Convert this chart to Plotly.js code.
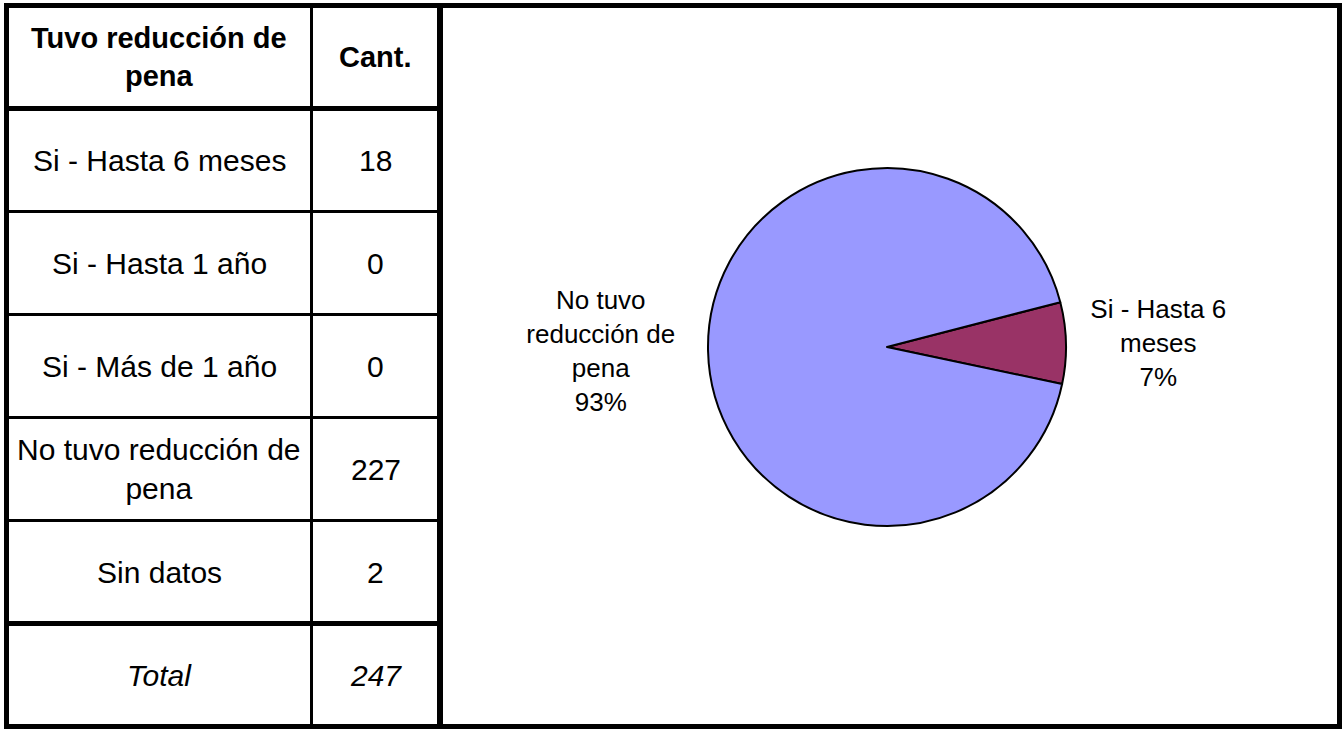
<!DOCTYPE html>
<html><head><meta charset="utf-8">
<script src="https://cdn.plot.ly/plotly-3.0.1.min.js"></script>
<style>html,body{margin:0;padding:0;background:#fff;overflow:hidden}#chart{width:1343px;height:731px}</style>
</head><body><div id="chart"></div>
<script>
// ---- data ----
const headerCategory = 'Tuvo reducción de pena';
const headerCount = 'Cant.';
const categories = ['Si - Hasta 6 meses', 'Si - Hasta 1 año', 'Si - Más de 1 año', 'No tuvo reducción de pena', 'Sin datos'];
const counts = [18, 0, 0, 227, 2];
const totalLabel = 'Total';
const totalCount = 247;
const pieExcluded = ['Sin datos'];

// ---- helpers ----
const W = 1343, H = 731;
const FONT = 'Liberation Sans, Arial, sans-serif';
const px = x => x / W;
const py = y => 1 - y / H;
function wrap(s, max) {
  const words = s.split(' '); const lines = []; let cur = '';
  words.forEach(w => {
    const t = cur ? cur + ' ' + w : w;
    if (t.length > max && cur) { lines.push(cur); cur = w; } else cur = t;
  });
  if (cur) lines.push(cur);
  return lines.join('<br>');
}

// ---- table geometry ----
const top0 = 5.5, rowH = 103;
const nRows = categories.length + 2;
const xLeft = 6.5, xCol = 311.5, xMid = 440, xRight = 1339.5;
const shapes = [];
function hline(x0, x1, y, w) {
  shapes.push({type: 'line', xref: 'paper', yref: 'paper', x0: px(x0), x1: px(x1), y0: py(y), y1: py(y), line: {color: '#000', width: w}});
}
function vline(x, y0, y1, w) {
  shapes.push({type: 'line', xref: 'paper', yref: 'paper', x0: px(x), x1: px(x), y0: py(y0), y1: py(y1), line: {color: '#000', width: w}});
}
const yEnd = top0 + rowH * nRows;
for (let k = 1; k < nRows; k++) {
  const thick = (k === 1 || k === nRows - 1);
  hline(xLeft, xMid, top0 + rowH * k, thick ? 5 : 3);
}
vline(xCol, top0, yEnd, 3);
vline(xLeft, top0 - 2.5, yEnd + 2.5, 5);
vline(xMid, top0, yEnd, 6);
vline(xRight, top0 - 2.5, yEnd + 2.5, 5);
hline(xLeft, xRight, top0, 5);
hline(xLeft, xRight, yEnd, 5);

// ---- table text ----
const annotations = [];
const c1 = (xLeft + xCol) / 2, c2 = (xCol + xMid) / 2;
function cell(x, k, text, size) {
  annotations.push({xref: 'paper', yref: 'paper', x: px(x), y: py(top0 + rowH * (k + 0.5)),
    xanchor: 'center', yanchor: 'middle', showarrow: false, align: 'center',
    text: text, font: {family: FONT, size: size, color: '#000'}});
}
cell(c1, 0, '<b>' + wrap(headerCategory, 20) + '</b>', 29);
cell(c2, 0, '<b>' + headerCount + '</b>', 29);
categories.forEach((c, i) => { cell(c1, i + 1, wrap(c, 20), 30); cell(c2, i + 1, String(counts[i]), 30); });
cell(c1, nRows - 1, '<i>' + totalLabel + '</i>', 30);
cell(c2, nRows - 1, '<i>' + totalCount + '</i>', 30);

// ---- pie ----
const pieLabels = [], pieValues = [], pieText = [];
categories.forEach((c, i) => {
  if (pieExcluded.indexOf(c) < 0 && counts[i] > 0) { pieLabels.push(c); pieValues.push(counts[i]); pieText.push(wrap(c, 12)); }
});
const cx = 887, cy = 347, r = 179;
const pie = {
  type: 'pie', labels: pieLabels, values: pieValues, text: pieText,
  sort: false, direction: 'clockwise', rotation: 75.5,
  marker: {colors: ['#993366', '#9999FF'], line: {color: '#000', width: 2}},
  textposition: 'outside', texttemplate: '%{text}<br>%{percent:.0%}',
  textfont: {family: FONT, size: 26, color: '#000'},
  outsidetextfont: {family: FONT, size: 26, color: '#000'},
  hoverinfo: 'none', showlegend: false,
  domain: {x: [px(cx - r), px(cx + r)], y: [py(cy + r), py(cy - r)]}
};

Plotly.newPlot('chart', [pie], {
  width: W, height: H, margin: {l: 0, r: 0, t: 0, b: 0},
  paper_bgcolor: '#fff', plot_bgcolor: '#fff', showlegend: false,
  font: {family: FONT, color: '#000'},
  shapes: shapes, annotations: annotations
}, {displayModeBar: false, staticPlot: true});
</script></body></html>
